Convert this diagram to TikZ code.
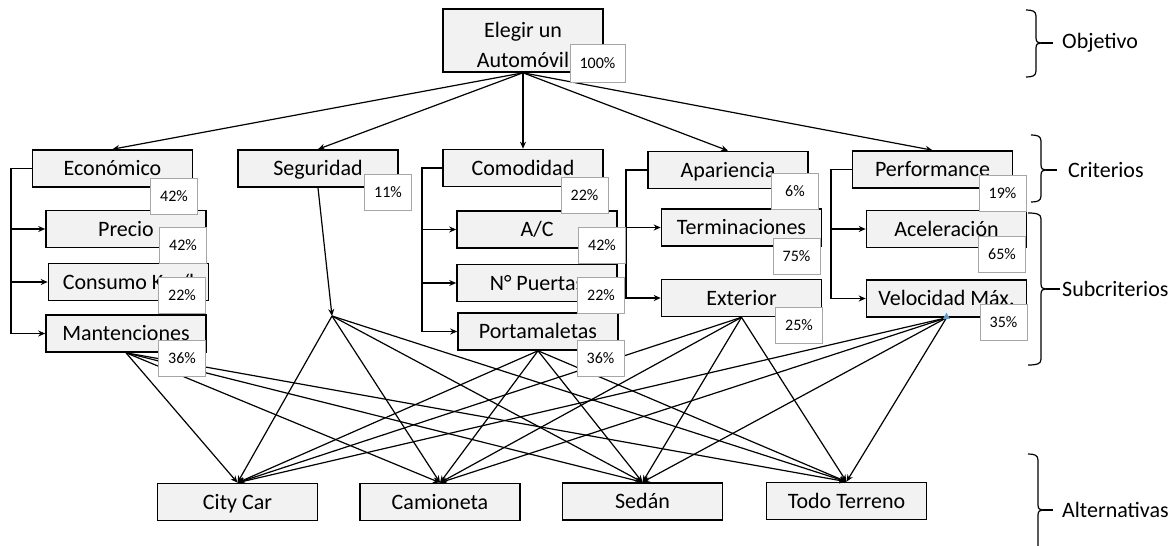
\documentclass[tikz,border=0pt]{standalone}
\usepackage{fontspec}
\setmainfont{Carlito}
\usetikzlibrary{arrows.meta}
\definecolor{boxgray}{HTML}{F2F2F2}
\definecolor{pctborder}{HTML}{A6A6A6}
\definecolor{bluetri}{HTML}{5B9BD5}
\newcommand\mybrace[5]{%
  \draw[brc] (#1,#3) .. controls (#2-4,#3) and (#2,#3+1) .. (#2,#3+6) -- (#2,#4-5)
    .. controls (#2,#4-1) and (#2+2,#4) .. (#2+5,#4)
    .. controls (#2+2,#4) and (#2,#4+1) .. (#2,#4+5) -- (#2,#5-6)
    .. controls (#2,#5-1) and (#2-4,#5) .. (#1,#5);}
\begin{document}
\begin{tikzpicture}[x=1pt,y=-1pt,
  box/.style={draw=black, line width=1.6pt, fill=boxgray, minimum width=160pt,
    minimum height=37pt, inner sep=0pt, text height=15pt, text depth=1pt,
    font=\fontsize{22}{26}\selectfont},
  pct/.style={draw=pctborder, line width=0.8pt, fill=white, minimum width=47pt,
    minimum height=36pt, inner sep=0pt, font=\fontsize{16}{18}\selectfont},
  conn/.style={line width=1.2pt, -{Stealth[length=7pt,width=6pt]}},
  plain/.style={line width=1.2pt},
  brc/.style={line width=1.2pt},
  lbl/.style={anchor=west, inner sep=0pt, font=\fontsize{22}{26}\selectfont}]
\useasboundingbox (0,0) rectangle (1176,546);

% goal
\node[box, minimum height=63pt] (goal) at (523,40.5) {};
\node[align=center, inner sep=0pt, font=\fontsize{22}{30}\selectfont] (goaltext) at (523,45) {Elegir un\\Automóvil};

% criteria
\node[box] (eco) at (112.5,168.5) {Económico};
\node[box] (seg) at (318,168.5) {Seguridad};
\node[box] (com) at (523,168) {Comodidad};
\node[box] (apa) at (728,170) {Apariencia};
\node[box] (per) at (932.5,169.5) {Performance};

% subcriteria
\node[box] (pre) at (126,229) {Precio};
\node[box] (con) at (128.5,282) {Consumo Km/l};
\node[box] (man) at (126,333.5) {Mantenciones};
\node[box] (ac) at (537,229.5) {A/C};
\node[box] (pue) at (537,283) {N° Puertas};
\node[box] (por) at (538,331.5) {Portamaletas};
\node[box] (ter) at (741.5,227.5) {Terminaciones};
\node[box] (ext) at (741.5,298) {Exterior};
\node[box] (ace) at (946.5,229) {Aceleración};
\node[box] (vel) at (946.5,298.5) {Velocidad Máx.};

% alternatives
\node[box] (cc) at (237.5,502) {City Car};
\node[box] (cam) at (440,502) {Camioneta};
\node[box] (sed) at (642.5,501.5) {Sedán};
\node[box] (tt) at (846.5,501) {Todo Terreno};

% goal -> criteria
\foreach \t in {eco,seg,com,apa,per} \draw[conn] (goal.south) -- (\t.north);

% bracket connectors
\coordinate (ecox) at (11,0);
\coordinate (comx) at (422,0);
\coordinate (apax) at (626,0);
\coordinate (perx) at (831,0);
\draw[conn] (eco.west) -- (eco.west -| ecox) -- (man.west -| ecox) -- (man.west);
\draw[conn] (pre.west -| ecox) -- (pre.west);
\draw[conn] (con.west -| ecox) -- (con.west);
\draw[conn] (com.west) -- (com.west -| comx) -- (por.west -| comx) -- (por.west);
\draw[conn] (ac.west -| comx) -- (ac.west);
\draw[conn] (pue.west -| comx) -- (pue.west);
\draw[conn] (apa.west) -- (apa.west -| apax) -- (ext.west -| apax) -- (ext.west);
\draw[conn] (ter.west -| apax) -- (ter.west);
\draw[conn] (per.west) -- (per.west -| perx) -- (vel.west -| perx) -- (vel.west);
\draw[conn] (ace.west -| perx) -- (ace.west);

% seguridad junction
\coordinate (segj) at (332,316);
\draw[conn] (seg.south) -- (segj);
\foreach \a in {cc,cam,sed,tt} \draw[conn] (segj) -- (\a.north);

% subcriteria -> alternatives
\foreach \s in {man,por,ext,vel}
  \foreach \a in {cc,cam,sed,tt}
    \draw[conn] (\s.south) -- (\a.north);

% small blue marker
\fill[bluetri] ([xshift=-3.5pt,yshift=-1pt]vel.south) -- ++(7,0) -- ++(-3.5,-6) -- cycle;

% percentages
\node[pct, minimum width=55pt, minimum height=38pt] (p0) at (597.5,63) {100\%};
\node[pct] (p1) at (174,196) {42\%};
\node[pct] (p2) at (183,245) {42\%};
\node[pct] (p3) at (182,295) {22\%};
\node[pct] (p4) at (182,358.5) {36\%};
\node[pct] (p5) at (388,192.5) {11\%};
\node[pct] (p6) at (584.5,195) {22\%};
\node[pct] (p7) at (602,245) {42\%};
\node[pct] (p8) at (601,295) {22\%};
\node[pct] (p9) at (600.5,358.5) {36\%};
\node[pct] (p10) at (795,191) {6\%};
\node[pct] (p11) at (796.5,256) {75\%};
\node[pct] (p12) at (799,325.5) {25\%};
\node[pct] (p13) at (1002.5,193) {19\%};
\node[pct] (p14) at (1002,254.5) {65\%};
\node[pct] (p15) at (1003.5,322.5) {35\%};

% level braces
\mybrace{1026}{1036}{10}{43}{77}
\coordinate (ob) at (1053,43);
\draw[brc] (1041,43) -- (ob);
\node[lbl] (objetivo) at (1062,43) {Objetivo};
\mybrace{1031}{1041}{135}{170}{202}
\coordinate (cr) at (1057,170);
\draw[brc] (1046,170) -- (cr);
\node[lbl] (criterios) at (1068,170) {Criterios};
\mybrace{1028}{1041}{213}{289}{365}
\coordinate (sb) at (1060,289);
\draw[brc] (1046,289) -- (sb);
\node[lbl] (subcriterios) at (1062,289) {Subcriterios};
\mybrace{1028}{1038}{454}{510}{560}
\coordinate (al) at (1053,510);
\draw[brc] (1043,510) -- (al);
\node[lbl] (alternativas) at (1062,510) {Alternativas};
\end{tikzpicture}
\end{document}
